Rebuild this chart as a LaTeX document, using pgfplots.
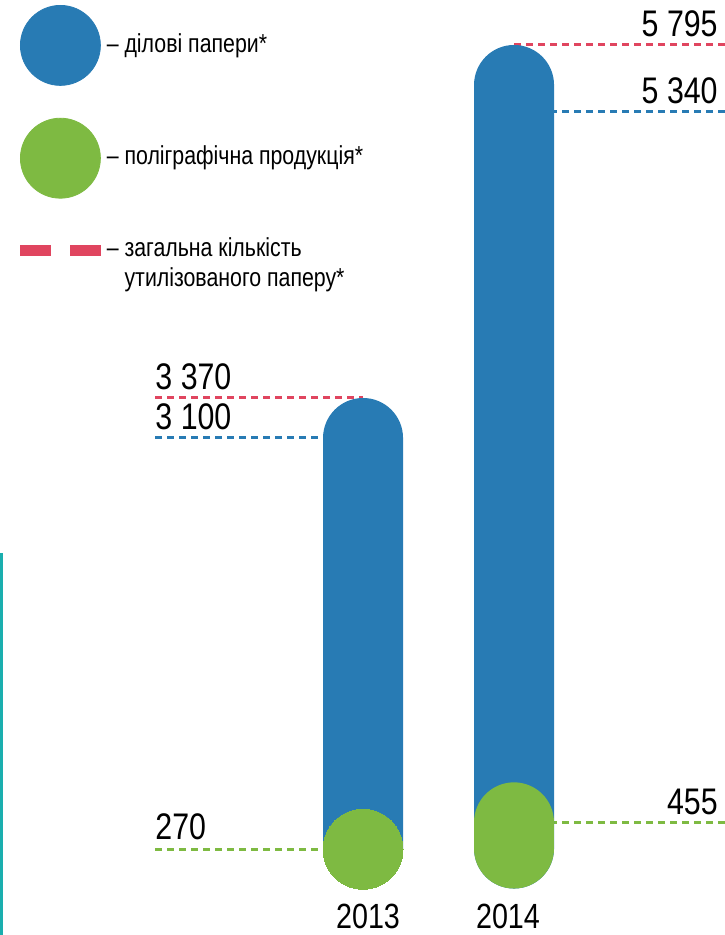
\documentclass[border=0pt]{standalone}
\usepackage{fontspec}
\setmainfont{Liberation Sans}[FakeStretch=0.82]
\usepackage{pgfplots}
\pgfplotsset{compat=1.18}
\definecolor{bluec}{HTML}{287BB4}
\definecolor{greenc}{HTML}{7EBA42}
\definecolor{redc}{HTML}{E0455F}
\definecolor{tealc}{HTML}{1AAEAE}
\begin{document}
\begin{tikzpicture}
\begin{axis}[
  scale only axis, width=362.5pt, height=467.5pt,
  xmin=-2.404, xmax=2.397, ymin=-319, ymax=6104,
  axis lines=none, clip=false,
  legend cell align=left,
  legend style={at={(rel axis cs:0,1)}, anchor=north west, draw=none, fill=none,
    inner sep=0pt, outer sep=0pt, row sep=0pt, column sep=3pt,
    nodes={inner sep=0pt, text depth={}},
    font=\fontsize{13}{15}\selectfont},
  dline/.style={line width=1.5pt, dash pattern=on 3.6pt off 2.4pt},
]
% legend
\addlegendimage{legend image code/.code={\path (0,22.5pt) (50pt,-28pt); \fill[bluec] (30pt,0) circle (20pt);}}
\addlegendentry{– ділові папери*}
\addlegendimage{legend image code/.code={\path (0,28pt) (50pt,-22.75pt); \fill[greenc] (30pt,0) circle (20pt);}}
\addlegendentry{– поліграфічна продукція*}
\addlegendimage{legend image code/.code={\path (0,30.65pt) (50pt,-20pt); \fill[redc] (10pt,5.4pt) rectangle (25pt,10.4pt); \fill[redc] (35pt,5.4pt) rectangle (50pt,10.4pt);}}
\addlegendentry{– \begin{tabular}[t]{@{}l@{}}загальна кількість\\утилізованого паперу*\end{tabular}}
% dashed guide lines
\addplot[redc, dline] coordinates {(-1.377,3370) (0,3370)};
\addplot[bluec, dline] coordinates {(-1.377,3100) (0,3100)};
\addplot[greenc, dline] coordinates {(-1.377,270) (0,270)};
\addplot[redc, dline] coordinates {(1,5795) (2.397,5795)};
\addplot[bluec, dline] coordinates {(1,5340) (2.397,5340)};
\addplot[greenc, dline] coordinates {(1,455) (2.397,455)};
% bars
\addplot[ybar, bar width=40pt, fill=bluec, draw=none, rounded corners=20pt] coordinates {(0,3370) (1,5795)};
\addplot[greenc, only marks, mark=*, mark size=20pt, mark options={solid, fill=greenc, draw=greenc, line width=0pt}] coordinates {(0,270)};
\addplot[greenc, line width=40pt, line cap=round] coordinates {(1,275) (1,455)};
% labels
\begin{scope}[every node/.style={inner sep=0pt, font=\fontsize{18.5}{20}\selectfont}]
\node[anchor=base west, yshift=4pt] at (axis cs:-1.377,3370) {3 370};
\node[anchor=base west, yshift=4pt] at (axis cs:-1.377,3100) {3 100};
\node[anchor=base west, yshift=5pt] at (axis cs:-1.377,270) {270};
\node[anchor=base east, yshift=4pt] at (axis cs:2.351,5795) {5 795};
\node[anchor=base east, yshift=4pt] at (axis cs:2.351,5340) {5 340};
\node[anchor=base east, yshift=4pt] at (axis cs:2.351,455) {455};
\node[anchor=base, font=\fontsize{17.5}{20}\selectfont] at (axis cs:0.033,-271) {2013};
\node[anchor=base, font=\fontsize{17.5}{20}\selectfont] at (axis cs:0.96,-271) {2014};
\end{scope}
\draw[tealc, line width=1.2pt] (rel axis cs:0.0021,0) -- (rel axis cs:0.0021,0.4086);
\end{axis}
\pgfresetboundingbox
\path (current axis.south west) rectangle (current axis.north east);
\end{tikzpicture}
\end{document}
